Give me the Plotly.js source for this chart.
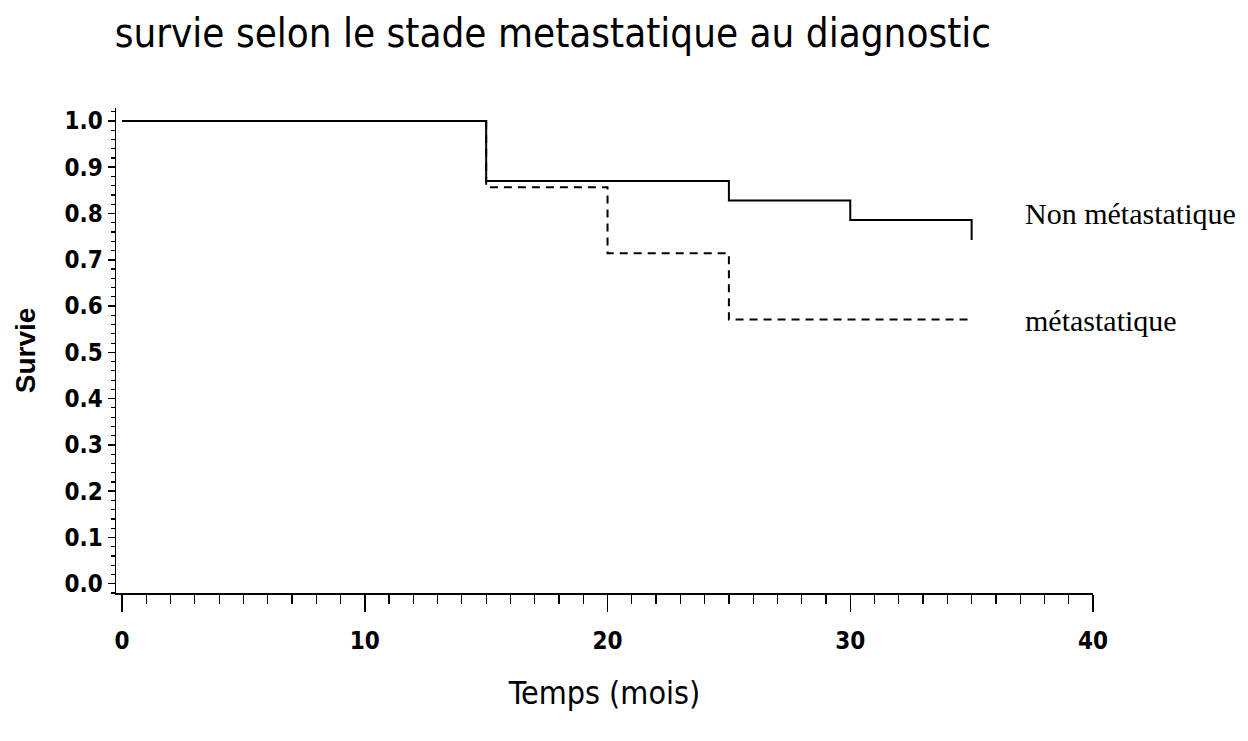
<!DOCTYPE html>
<html>
<head>
<meta charset="utf-8">
<script src="https://cdn.plot.ly/plotly-3.0.1.min.js"></script>
<style>html,body{margin:0;padding:0;background:#fff;}#chart{width:1248px;height:741px;}</style>
</head>
<body>
<div id="chart"></div>
<script>
// Data (Kaplan-Meier step curves)
const timeNonMeta = [0, 15, 25, 30, 35, 35];
const survNonMeta = [1.0, 0.870, 0.828, 0.786, 0.786, 0.743];
const timeMeta = [0, 15, 20, 25, 35];
const survMeta = [1.0, 0.857, 0.714, 0.571, 0.571];
const labelNonMeta = "Non métastatique";
const labelMeta = "métastatique";
const xTickVals = [0, 10, 20, 30, 40];

const narrow = '"Liberation Sans Narrow", "DejaVu Sans Condensed", "Arial Narrow", sans-serif';
const serif = '"Liberation Serif", "Times New Roman", serif';

const traces = [
  {x: timeNonMeta, y: survNonMeta, mode: 'lines', line: {shape: 'hv', color: '#000', width: 2}, name: labelNonMeta},
  {x: timeMeta, y: survMeta, mode: 'lines', line: {shape: 'hv', color: '#000', width: 2, dash: '8px,6px'}, name: labelMeta}
];

const layout = {
  width: 1248, height: 741,
  paper_bgcolor: '#fff', plot_bgcolor: '#fff',
  showlegend: false,
  margin: {l: 116, r: 155, t: 108, b: 148},
  title: {text: 'survie selon le stade metastatique au diagnostic', x: 0.443, xanchor: 'center', xref: 'container',
          y: 0.956, yanchor: 'middle', yref: 'container', font: {family: narrow, size: 40, color: '#000'}},
  xaxis: {
    range: [-0.25, 40], showgrid: false, zeroline: false, showline: true, linecolor: '#000', linewidth: 1.5,
    tickmode: 'array', tickvals: xTickVals, ticks: 'outside', ticklen: 17, tickwidth: 1.5, tickcolor: '#000',
    minor: {dtick: 1, tick0: 0, ticks: 'outside', ticklen: 9, tickwidth: 1.2, tickcolor: '#000', showgrid: false},
    tickfont: {family: narrow, size: 24, color: '#000', weight: 'bold'},
    ticklabelstandoff: 9,
    title: {text: 'Temps (mois)', font: {family: narrow, size: 32, color: '#000'}, standoff: 27}
  },
  yaxis: {
    range: [-0.02, 1.028], showgrid: false, zeroline: false, showline: true, linecolor: '#000', linewidth: 1.5,
    tick0: 0, dtick: 0.1, tickformat: '.1f', ticks: 'outside', ticklen: 7, tickwidth: 1.5, tickcolor: '#000',
    minor: {dtick: 0.02, tick0: 0, ticks: 'outside', ticklen: 4, tickwidth: 1.2, tickcolor: '#000', showgrid: false},
    tickfont: {family: narrow, size: 24, color: '#000', weight: 'bold'},
    title: {text: 'Survie', font: {family: '"Liberation Sans", Arial, sans-serif', size: 28, color: '#000', weight: 'bold'}, standoff: 20}
  },
  annotations: [
    {text: labelNonMeta, xref: 'x', yref: 'y', x: 37.1, y: 0.80, xanchor: 'left', yanchor: 'middle', showarrow: false,
     font: {family: serif, size: 30, color: '#000'}},
    {text: labelMeta, xref: 'x', yref: 'y', x: 37.1, y: 0.568, xanchor: 'left', yanchor: 'middle', showarrow: false,
     font: {family: serif, size: 30, color: '#000'}}
  ]
};

Plotly.newPlot('chart', traces, layout, {displayModeBar: false, staticPlot: true});
</script>
</body>
</html>
